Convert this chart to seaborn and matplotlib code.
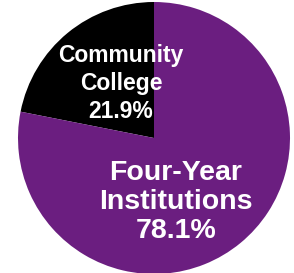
import matplotlib
matplotlib.use("Agg")
import matplotlib.pyplot as plt
import seaborn as sns

categories = ["Community\nCollege", "Four-Year\nInstitutions"]
values = [21.9, 78.1]
colors = ["#000000", "#6b1e80"]

sns.set_theme(style="white")
plt.rcParams['font.family'] = ['Liberation Sans', 'DejaVu Sans']

fig = plt.figure(figsize=(2.94, 2.73), dpi=100)
ax = fig.add_axes([0, 0, 1, 1])
ax.pie(values, colors=colors, startangle=90, counterclock=True,
       wedgeprops=dict(linewidth=0))
ax.set_xlim(-154/136, 140/136)
ax.set_ylim(-135/136, 138/136)
ax.set_aspect('auto')
ax.axis('off')

label_pos = [(-0.243, 0.40), (0.16, -0.47)]
sizes = [16.5, 20.5]
spacing = [1.3, 1.15]
for cat, val, (x, y), s, ls in zip(categories, values, label_pos, sizes, spacing):
    ax.text(x, y, f"{cat}\n{val:.1f}%", ha='center', va='center', color='white',
            fontsize=s, fontweight='bold', linespacing=ls)

fig.savefig("out.png", dpi=100)
